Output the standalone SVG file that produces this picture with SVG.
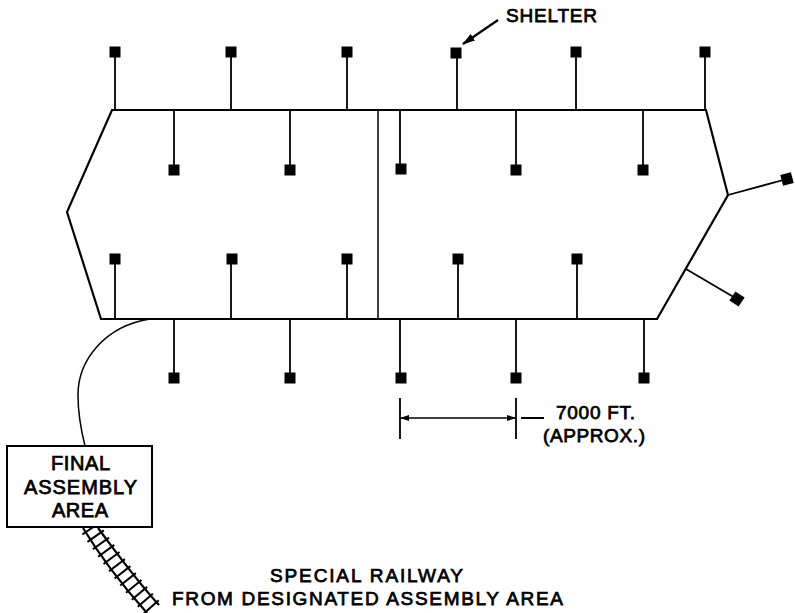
<svg xmlns="http://www.w3.org/2000/svg" width="795" height="613" viewBox="0 0 795 613">
<style>
.l{fill:none;stroke:#000;stroke-width:2.200}
.n{fill:none;stroke:#000;stroke-width:1.500}
.t{stroke:#000;stroke-width:1.800}
.s{fill:#000}
text{font-family:"Liberation Sans",Arial,sans-serif;font-size:19px;fill:#000;stroke:#000;stroke-width:.75}
.b{font-size:20px}
</style>
<defs>
<rect id="sq" x="-5.500" y="-5.500" width="11" height="11" class="s"/>
<marker id="a" markerWidth="13" markerHeight="10" refX="12" refY="5" orient="auto" markerUnits="userSpaceOnUse"><path d="M0 1L13 5L0 9Z"/></marker>
<marker id="b" markerWidth="9" markerHeight="7" refX="8" refY="3.500" orient="auto-start-reverse" markerUnits="userSpaceOnUse"><path d="M0 .5L9 3.500L0 6.500Z"/></marker>
</defs>
<g id="connectors">
<path class="l" d="M112 110H706L728 195L657 319H101L67 212Z"/>
<path class="n" d="M378 110V319"/>
<path class="t" d="M115 52V110M231 52V110M347 52V110M457 52V110M576 52V110M705 52V110M174 110V170M290 110V170M400 110V170M516 110V170M643 110V170M115 259V319M231 259V319M347 259V319M458 259V319M577 259V319M174 319V378M290 319V378M400 319V378M516 319V378M644 319V378M728 195L787 179M686 269L737 299"/>
<path class="n" d="M150 319C105 326 78 360 78 395C78 415 81 430 85 446"/>
<path class="l" marker-end="url(#a)" d="M498 20L463 44"/>
<path class="t" d="M400 398V439M516 398V439M521 418H544"/>
<path class="n" marker-start="url(#b)" marker-end="url(#b)" d="M401 418H515"/>
<path class="l" d="M83 528C100 556 122 585 147 613"/>
<path class="l" d="M98 528C116 552 136 580 159 605"/>
<path fill="none" stroke="#000" stroke-width="20" stroke-dasharray="2 7" d="M90 528C108 554 129 582 153 609"/>
</g>
<g id="shelters">
<use href="#sq" x="115" y="52"/><use href="#sq" x="231" y="52"/><use href="#sq" x="347" y="52"/><use href="#sq" x="456" y="53"/><use href="#sq" x="576" y="52"/><use href="#sq" x="705" y="52"/>
<use href="#sq" x="174" y="170"/><use href="#sq" x="290" y="170"/><use href="#sq" x="401" y="169"/><use href="#sq" x="516" y="170"/><use href="#sq" x="643" y="170"/>
<use href="#sq" x="115" y="259"/><use href="#sq" x="232" y="259"/><use href="#sq" x="347" y="259"/><use href="#sq" x="458" y="259"/><use href="#sq" x="577" y="259"/>
<use href="#sq" x="174" y="378"/><use href="#sq" x="290" y="378"/><use href="#sq" x="401" y="378"/><use href="#sq" x="516" y="378"/><use href="#sq" x="644" y="378"/>
<use href="#sq" transform="translate(787 179) rotate(-15)"/>
<use href="#sq" transform="translate(737 299) rotate(33)"/>
</g>
<g id="final-assembly-area">
<rect x="7" y="446" width="145" height="81" fill="#fff" stroke="#000" stroke-width="2"/>
<text class="b" x="51" y="470" textLength="59" lengthAdjust="spacing">FINAL</text>
<text class="b" x="24" y="494" textLength="113" lengthAdjust="spacing">ASSEMBLY</text>
<text class="b" x="52" y="517" textLength="56" lengthAdjust="spacing">AREA</text>
</g>
<g id="labels">
<text x="506" y="22" textLength="91" lengthAdjust="spacing">SHELTER</text>
<text x="556" y="419" textLength="79" lengthAdjust="spacing">7000 FT.</text>
<text x="543" y="442" textLength="102" lengthAdjust="spacing">(APPROX.)</text>
<text x="270" y="582" textLength="193" lengthAdjust="spacing">SPECIAL RAILWAY</text>
<text x="172" y="605" textLength="391" lengthAdjust="spacing">FROM DESIGNATED ASSEMBLY AREA</text>
</g>
</svg>
